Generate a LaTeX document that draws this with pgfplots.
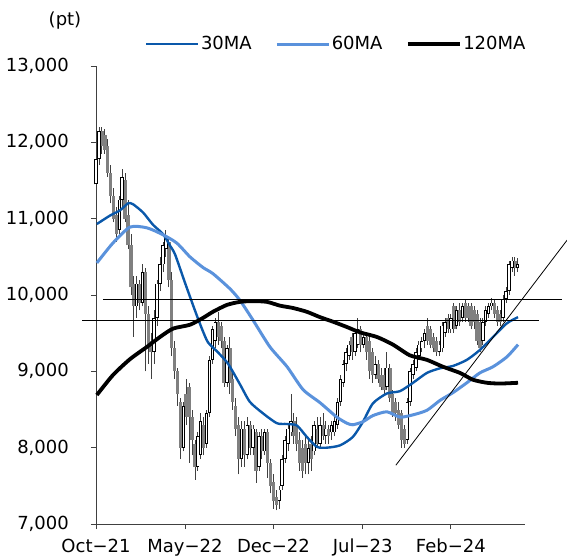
\documentclass[border=0pt]{standalone}
\usepackage{fontspec}
\setmainfont{DejaVu Sans}
\usepackage{pgfplots}
\usepackage{pgfplotstable}
\pgfplotsset{compat=1.18}

\definecolor{ma30}{RGB}{10,88,170}
\definecolor{ma60}{RGB}{90,146,220}
\definecolor{candlegray}{RGB}{128,128,128}

% weekly candles (week index, open, high, low, close): rising weeks
\pgfplotstableread{
w o h l c
0 11450 11850 11300 11780
1 11780 12200 11700 12150
8 10850 11300 10800 11250
9 11250 11650 11150 11550
14 9850 10250 9700 10150
16 9900 10400 9850 10300
20 9250 9800 9100 9700
21 9700 10200 9600 10150
22 10150 10500 10050 10400
23 10400 10700 10300 10650
24 10600 10850 10500 10750
30 8000 8600 7950 8550
35 7750 8200 7700 8150
36 7900 8450 7850 8350
38 8050 8500 8000 8450
39 8450 9200 8400 9150
40 9150 9600 9100 9550
41 9400 9700 9300 9650
45 8850 9350 8800 9300
50 7850 8350 7750 8250
52 7900 8400 7850 8300
54 8000 8300 7900 8250
56 7750 8200 7700 8150
58 7950 8250 7900 8200
63 7300 7500 7200 7450
64 7500 7900 7450 7850
65 7850 8150 7800 8100
66 8050 8300 7950 8250
67 8200 8700 8150 8350
73 7800 8100 7650 8000
75 7950 8350 7900 8300
77 8050 8400 8000 8300
79 8150 8350 8050 8250
81 8200 8350 8100 8300
82 8200 8400 8150 8350
83 8300 8650 8250 8600
84 8600 8950 8550 8900
85 8850 9150 8800 9100
86 9100 9300 9000 9250
87 9200 9400 9150 9350
89 9250 9550 9200 9500
90 9350 9700 9300 9550
92 9350 9500 9300 9450
96 8950 9200 8900 9100
100 8800 9250 8750 9050
107 8100 8650 8050 8600
108 8600 9050 8550 9000
109 8950 9150 8900 9100
110 9050 9300 9000 9250
111 9200 9400 9150 9350
112 9300 9450 9250 9400
113 9400 9550 9300 9500
118 9250 9400 9200 9350
119 9300 9650 9250 9600
120 9500 9700 9450 9650
122 9550 9750 9500 9700
124 9600 9850 9550 9800
126 9700 9900 9650 9850
133 9400 9700 9350 9650
134 9650 9850 9600 9800
135 9750 9900 9700 9850
136 9850 9960 9800 9900
140 9700 10000 9650 9950
141 9950 10100 9900 10050
142 10050 10450 10000 10400
143 10350 10500 10300 10450
145 10350 10480 10300 10400
}\upc

% falling weeks
\pgfplotstableread{
w o h l c
2 12150 12200 11850 11950
3 12100 12180 11850 11900
4 11950 12050 11550 11600
5 11600 11700 11200 11300
6 11300 11400 10950 11000
7 11050 11150 10700 10800
10 11500 11600 10950 11000
11 11050 11250 10600 10650
12 10650 10800 10000 10100
13 10150 10250 9450 9850
15 10150 10200 9800 9900
17 10300 10350 9000 9750
18 9750 9850 9100 9300
19 9400 9500 8900 9250
25 10700 10750 10100 10200
26 10200 10300 9200 9300
27 9300 9400 8900 9000
28 9000 9050 8550 8700
29 8600 8650 7850 8000
31 8700 8900 8300 8400
32 8800 8850 7800 8400
33 8400 8500 7900 8100
34 8050 8100 7580 7750
37 8300 8400 7900 8000
42 9650 9780 9350 9450
43 9600 9650 9300 9400
44 9400 9450 8800 8850
46 9300 9450 8700 8850
47 8900 9000 8500 8600
48 8550 8650 8150 8250
49 8300 8400 7650 7850
51 8250 8350 7750 7900
53 8300 8350 7900 8000
55 8200 8250 7540 7700
57 8150 8250 7850 7950
59 8200 8250 7600 7800
60 7800 7850 7400 7500
61 7550 7650 7200 7300
62 7350 7450 7180 7250
68 8350 8450 8050 8150
69 8300 8400 7950 8050
70 8100 8200 7700 7800
71 8000 8100 7600 7700
72 8050 8150 7650 7800
74 8050 8150 7700 7850
76 8250 8400 8000 8050
78 8300 8450 8100 8150
80 8250 8300 8050 8150
88 9450 9500 9150 9250
91 9550 9600 9250 9350
93 9450 9500 9150 9250
94 9400 9450 8900 9000
95 9250 9300 8850 8950
97 9100 9150 8850 8900
98 8950 9050 8750 8800
99 8950 9050 8700 8750
101 9050 9100 8600 8650
102 8700 8750 8400 8450
103 8600 8650 8350 8450
104 8500 8600 8250 8300
105 8450 8500 8000 8100
106 8250 8300 8000 8050
114 9600 9700 9350 9400
115 9550 9600 9300 9350
116 9450 9500 9250 9300
117 9400 9450 9200 9250
121 9700 9750 9500 9550
123 9850 9900 9500 9550
125 9800 9900 9600 9650
127 9900 9950 9650 9700
128 9850 9900 9650 9700
129 9850 9900 9550 9600
130 9800 9850 9550 9650
131 9750 9800 9350 9400
132 9650 9700 9250 9300
137 9900 9950 9700 9750
138 9800 9850 9600 9650
139 9750 9800 9600 9650
144 10450 10500 10250 10350
}\downc

\begin{document}
\fontsize{18bp}{21bp}\selectfont
\begin{tikzpicture}
\begin{axis}[
  scale only axis, width=429bp, height=458bp,
  xmin=0, xmax=147.5, ymin=7000, ymax=13000,
  axis lines*=left,
  axis line style={black!75, line width=0.8bp},
  tick align=outside, major tick length=5bp,
  tick style={black!75, line width=0.8bp},
  xtick={0,30.6,61,91.7,122},
  xticklabels={Oct−21,May−22,Dec−22,Jul−23,Feb−24},
  ytick={7000,8000,...,13000},
  scaled y ticks=false,
  /pgf/number format/1000 sep={,},
  /pgf/number format/assume math mode=true,
  yticklabel style={xshift=-16bp},
  xticklabel style={yshift=-4bp},
  clip=false,
  legend columns=3,
  legend style={at={(0.114,1.048)}, anchor=west, draw=none, fill=none,
    inner sep=0pt, nodes={inner sep=1.5bp},
    /tikz/every even column/.append style={column sep=22bp}},
  legend image code/.code={\draw[#1, line cap=butt] (0bp,0bp) -- (52bp,0bp);},
]
\coordinate (O) at (axis cs:0,7000);

% wicks
\addplot[forget plot, draw=black!75, line width=0.7bp, quiver={u=0, v=\thisrow{h}-\thisrow{l}}]
  table[x=w, y=l] {\upc};
\addplot[forget plot, draw=black!75, line width=0.7bp, quiver={u=0, v=\thisrow{h}-\thisrow{l}}]
  table[x=w, y=l] {\downc};
% falling bodies
\addplot[forget plot, draw=candlegray, line width=3.6bp, quiver={u=0, v=\thisrow{o}-\thisrow{c}}]
  table[x=w, y=c] {\downc};
% rising bodies: outline, then white inside
\addplot[forget plot, draw=black, line width=3.4bp, quiver={u=0, v=\thisrow{c}-\thisrow{o}}]
  table[x=w, y=o] {\upc};
\addplot[forget plot, draw=white, line width=1.5bp, quiver={u=0, v=\thisrow{c}-\thisrow{o}-22}]
  table[x=w, y expr=\thisrow{o}+11] {\upc};

% moving averages
\addplot[ma30, line width=2.4bp, smooth, tension=0.4] coordinates {
(0.3,10930) (4.8,11040) (8.3,11110) (11.0,11200) (12.7,11190) (16.2,11080)
(19.6,10920) (23.0,10800) (25.4,10650) (27.2,10530) (30.6,10160) (34.0,9800)
(36.4,9560) (38.5,9380) (41.9,9250) (45.4,9100) (49.5,8830) (52.9,8600)
(57.4,8450) (62.2,8320) (65.7,8310) (69.1,8290) (72.5,8140) (76.0,8010)
(79.4,8000) (83.9,8030) (88.3,8140) (91.8,8340) (95.2,8580) (100.0,8710)
(104.5,8740) (109.0,8850) (113.8,8980) (118.3,9040) (122.7,9070) (127.5,9150)
(132.0,9280) (136.5,9450) (141.3,9630) (145.1,9710)
};
\addlegendentry{30MA}
\addplot[ma60, line width=3bp, smooth, tension=0.4] coordinates {
(0.3,10420) (5.8,10680) (11.7,10890) (17.5,10880) (23.0,10790) (27.8,10680)
(32.3,10500) (36.8,10360) (40.2,10280) (46.1,10080) (49.5,9930) (54.0,9670)
(59.8,9320) (65.7,9060) (71.2,8760) (77.0,8590) (82.8,8400) (86.3,8320)
(88.3,8300) (91.8,8340) (95.2,8420) (100.0,8470) (104.5,8400) (109.0,8430)
(113.8,8490) (118.3,8620) (122.7,8720) (127.5,8850) (132.0,8980) (136.5,9060)
(141.3,9190) (145.1,9350)
};
\addlegendentry{60MA}
\addplot[black, line width=3.8bp, smooth, tension=0.4] coordinates {
(0.3,8690) (5.8,8950) (11.7,9160) (17.5,9320) (22.0,9450) (26.5,9560)
(32.3,9610) (36.8,9700) (40.2,9780) (45.0,9870) (49.5,9910) (54.0,9920)
(58.8,9910) (63.3,9860) (67.7,9830) (72.5,9780) (77.0,9710) (81.5,9650)
(86.3,9580) (90.8,9510) (96.6,9450) (102.1,9350) (107.9,9210) (113.8,9150)
(119.3,9060) (125.1,8980) (129.6,8890) (134.4,8850) (138.9,8840) (145.1,8850)
};
\addlegendentry{120MA}

% support/resistance and trend lines
\addplot[black, line width=0.8bp, forget plot] coordinates {(2.4,9945) (160.2,9945)};
\addplot[black, line width=0.8bp, forget plot] coordinates {(-4.8,9670) (152.3,9670)};
\addplot[black, line width=0.8bp, forget plot] coordinates {(103.1,7770) (162,10720)};
\end{axis}
\node at ([shift={(-31bp,503bp)}]O) {(pt)};
\pgfresetboundingbox
\path[use as bounding box] ([shift={(-96bp,-34bp)}]O) rectangle ([shift={(471bp,524bp)}]O);
\end{tikzpicture}
\end{document}
